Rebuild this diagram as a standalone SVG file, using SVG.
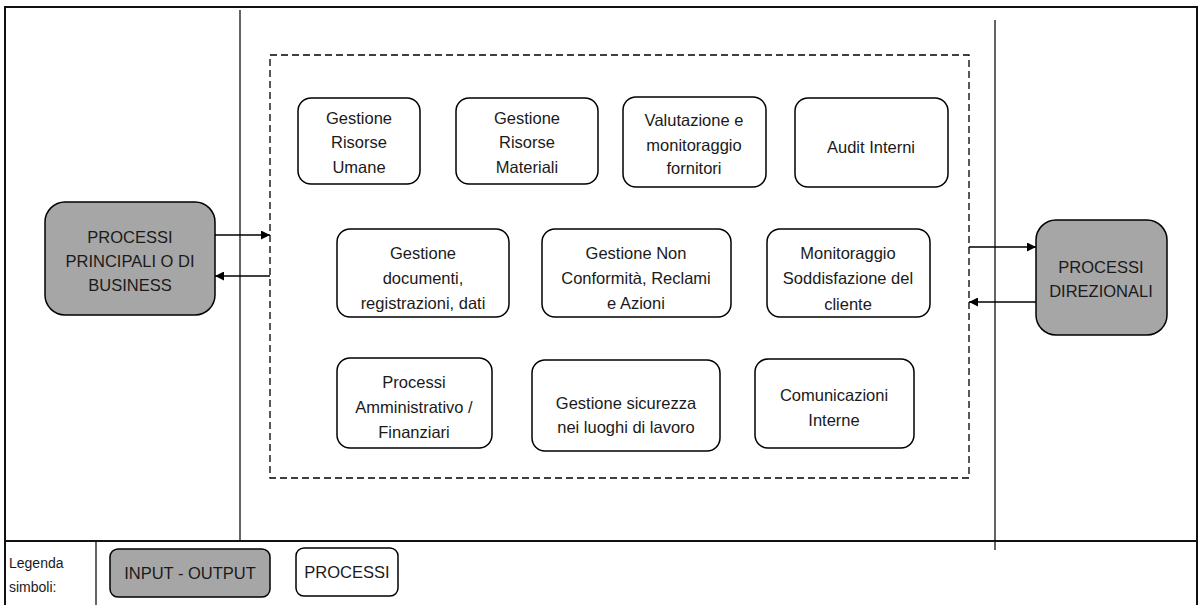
<svg xmlns="http://www.w3.org/2000/svg" width="1198" height="605" viewBox="0 0 1198 605">
<style>
  text { font-family: "Liberation Sans", Arial, sans-serif; font-size: 16.5px; fill: #1a1a1a; text-anchor: middle; }
  .proc { fill: #ffffff; stroke: #000; stroke-width: 1.5; }
  .io { fill: #a6a6a6; stroke: #000; stroke-width: 1.5; }
  .frame { fill: none; stroke: #111; stroke-width: 2; }
  .vline { stroke: #111; stroke-width: 1.3; }
  .conn { stroke: #000; stroke-width: 1.3; fill: none; marker-end: url(#ah); }
  .leg { font-size: 14px; text-anchor: start; }
</style>
<defs>
  <marker id="ah" viewBox="0 0 10 10" refX="10" refY="5" markerWidth="11" markerHeight="9" markerUnits="userSpaceOnUse" orient="auto">
    <path d="M0,0 L10,5 L0,10 z" fill="#000"/>
  </marker>
</defs>
<rect width="1198" height="605" fill="#fff"/>
<g id="frame">
  <path class="frame" d="M5,605 V7 H1197 V605"/>
  <line class="frame" x1="5" y1="541" x2="1197" y2="541"/>
  <line class="vline" x1="240" y1="10" x2="240" y2="541"/>
  <line class="vline" x1="995" y1="20" x2="995" y2="550"/>
  <line class="vline" x1="96" y1="541" x2="96" y2="605"/>
  <rect x="270" y="55" width="699" height="423" fill="none" stroke="#000" stroke-width="1.3" stroke-dasharray="7,4"/>
</g>
<g id="n-principali">
  <rect class="io" x="45" y="202" width="170" height="113" rx="20"/>
  <text x="130" y="243">PROCESSI</text>
  <text x="130" y="267">PRINCIPALI O DI</text>
  <text x="130" y="291">BUSINESS</text>
</g>
<g id="n-direzionali">
  <rect class="io" x="1036" y="220" width="131" height="115" rx="20"/>
  <text x="1101" y="273">PROCESSI</text>
  <text x="1101" y="297">DIREZIONALI</text>
</g>
<g id="n-risorse-umane">
  <rect class="proc" x="298" y="98" width="122" height="86" rx="13"/>
  <text x="359" y="124">Gestione</text>
  <text x="359" y="148">Risorse</text>
  <text x="359" y="173">Umane</text>
</g>
<g id="n-risorse-materiali">
  <rect class="proc" x="456" y="98" width="142" height="86" rx="13"/>
  <text x="527" y="124">Gestione</text>
  <text x="527" y="148">Risorse</text>
  <text x="527" y="173">Materiali</text>
</g>
<g id="n-fornitori">
  <rect class="proc" x="623" y="97" width="143" height="90" rx="13"/>
  <text x="694" y="126">Valutazione e</text>
  <text x="694" y="151">monitoraggio</text>
  <text x="694" y="174">fornitori</text>
</g>
<g id="n-audit">
  <rect class="proc" x="795" y="98" width="153" height="89" rx="13"/>
  <text x="871" y="153">Audit Interni</text>
</g>
<g id="n-documenti">
  <rect class="proc" x="337" y="229" width="172" height="88" rx="13"/>
  <text x="423" y="259">Gestione</text>
  <text x="423" y="284">documenti,</text>
  <text x="423" y="309">registrazioni, dati</text>
</g>
<g id="n-nonconformita">
  <rect class="proc" x="542" y="229" width="189" height="88" rx="13"/>
  <text x="636" y="259">Gestione Non</text>
  <text x="636" y="284">Conformità, Reclami</text>
  <text x="636" y="309">e Azioni</text>
</g>
<g id="n-soddisfazione">
  <rect class="proc" x="767" y="229" width="163" height="88" rx="13"/>
  <text x="848" y="259">Monitoraggio</text>
  <text x="848" y="284">Soddisfazione del</text>
  <text x="848" y="310">cliente</text>
</g>
<g id="n-amministrativo">
  <rect class="proc" x="337" y="358" width="155" height="90" rx="13"/>
  <text x="414" y="388">Processi</text>
  <text x="414" y="413">Amministrativo /</text>
  <text x="414" y="438">Finanziari</text>
</g>
<g id="n-sicurezza">
  <rect class="proc" x="532" y="360" width="188" height="91" rx="13"/>
  <text x="626" y="409">Gestione sicurezza</text>
  <text x="626" y="433">nei luoghi di lavoro</text>
</g>
<g id="n-comunicazioni">
  <rect class="proc" x="755" y="359" width="159" height="89" rx="13"/>
  <text x="834" y="401">Comunicazioni</text>
  <text x="834" y="426">Interne</text>
</g>
<g id="connectors">
  <line class="conn" x1="215" y1="235" x2="270" y2="235"/>
  <line class="conn" x1="270" y1="276" x2="215" y2="276"/>
  <line class="conn" x1="969" y1="247" x2="1036" y2="247"/>
  <line class="conn" x1="1036" y1="302" x2="969" y2="302"/>
</g>
<g id="legend">
  <text class="leg" x="9" y="568">Legenda</text>
  <text class="leg" x="9" y="592">simboli:</text>
  <g id="leg-io">
    <rect class="io" x="110" y="549" width="160" height="48" rx="8"/>
    <text x="190" y="579">INPUT - OUTPUT</text>
  </g>
  <g id="leg-proc">
    <rect class="proc" x="296" y="548" width="102" height="48" rx="8"/>
    <text x="347" y="578">PROCESSI</text>
  </g>
</g>
</svg>
